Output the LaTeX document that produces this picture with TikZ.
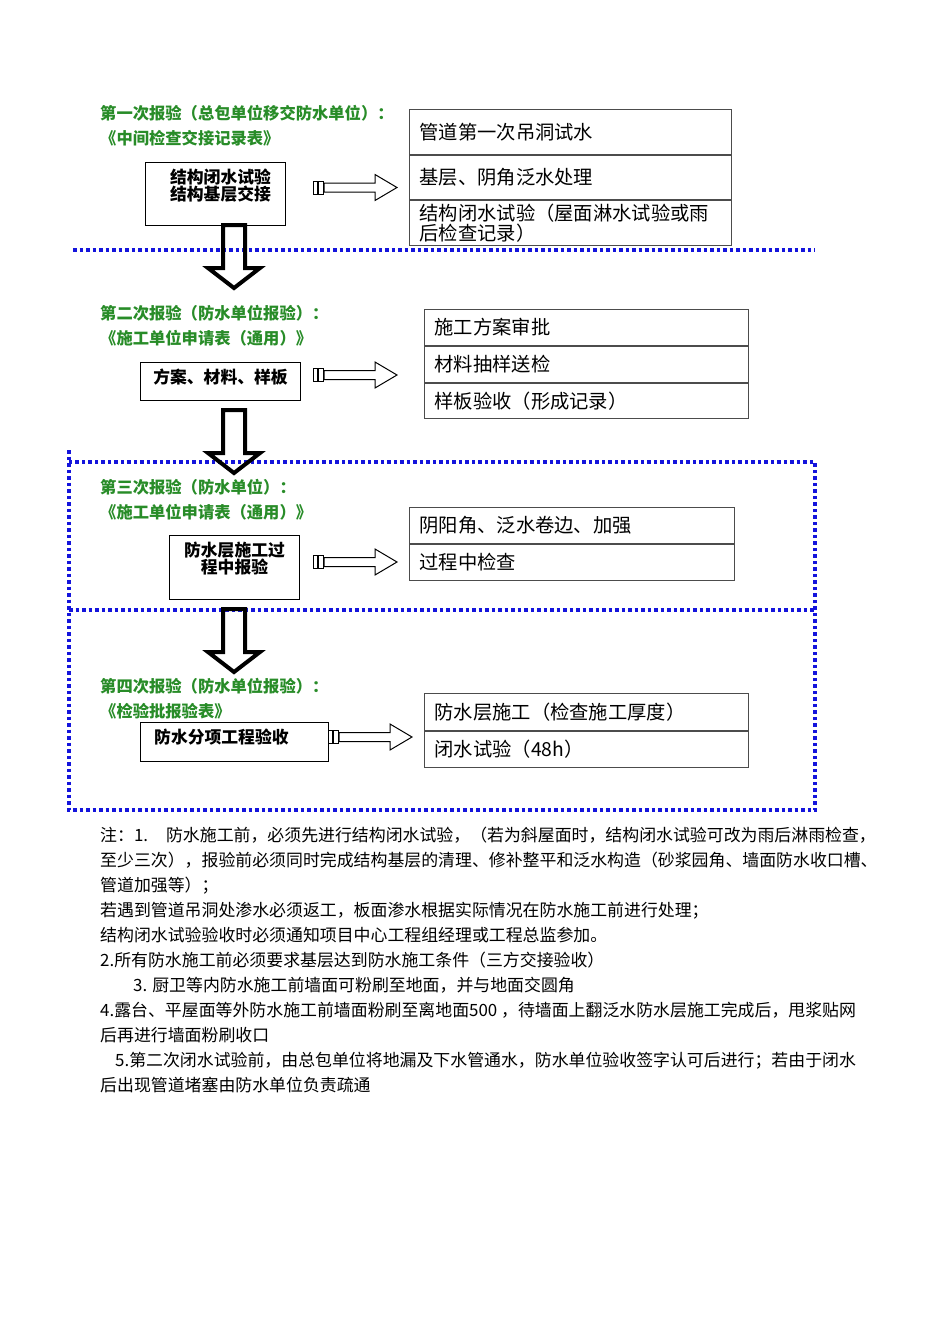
\documentclass[tikz,border=0pt]{standalone}
\usepackage{fontspec}
\setmainfont{Noto Sans CJK SC}
\usepackage{xcolor}
\usepackage{tikz}
\usetikzlibrary{positioning}
\definecolor{labelgreen}{RGB}{40,140,40}
\definecolor{dotblue}{RGB}{20,20,220}

\begin{document}
\begin{tikzpicture}[
    x=1pt, y=-1pt,
    lbl/.style={anchor=north west, inner sep=0pt, align=left, text=labelgreen, font=\fontsize{16.3}{25}\selectfont\bfseries},
    stage/.style={draw, line width=1pt, anchor=north west, inner sep=0pt},
    stagetext/.style={inner sep=0pt, align=center, font=\fontsize{16.8}{17}\selectfont\bfseries},
    cell/.style={draw=black!70, line width=1pt, anchor=north west, inner xsep=10pt, inner ysep=0pt, text width=#1, align=left, font=\fontsize{19.3}{18}\selectfont},
    notes/.style={anchor=north west, inner sep=0pt, align=left, font=\fontsize{16.9}{25}\selectfont},
    hollow/.style={draw, line width=4pt, line join=miter},
    flat/.style={draw, line width=1pt},
    dotline/.style={dotblue, line width=3.5pt, dash pattern=on 3.5pt off 3pt}
]
    \useasboundingbox (0,0) rectangle (950,1344);

    % Stage 1 - handover
    \node[lbl] (handoverlbl) at (100,105) {第一次报验（总包单位移交防水单位）：\\《中间检查交接记录表》};
    \node[stage, minimum width=140pt, minimum height=63pt] (handover) at (145,162) {};
    \node[stagetext, below=6.6pt of handover.north, xshift=5pt] {结构闭水试验\\结构基层交接};
    \node[cell=302pt, minimum height=45pt] (pipe) at (409,109) {管道第一次吊洞试水};
    \node[cell=302pt, minimum height=44pt] (base) at (pipe.south west) {基层、阴角泛水处理};
    \node[cell=302pt, minimum height=45pt] (closed) at (base.south west) {结构闭水试验（屋面淋水试验或雨\\后检查记录）};

    % Stage 2 - scheme
    \node[lbl] (schemelbl) at (100,305) {第二次报验（防水单位报验）：\\《施工单位申请表（通用）》};
    \node[stage, minimum width=160pt, minimum height=38pt] (scheme) at (140,362) {};
    \node[stagetext, below=6.6pt of scheme.north] {方案、材料、样板};
    \node[cell=304pt, minimum height=36pt] (approve) at (424,309) {施工方案审批};
    \node[cell=304pt, minimum height=36pt] (sample) at (approve.south west) {材料抽样送检};
    \node[cell=304pt, minimum height=35pt] (board) at (sample.south west) {样板验收（形成记录）};

    % Stage 3 - in process
    \node[lbl] (processlbl) at (100,479) {第三次报验（防水单位）：\\《施工单位申请表（通用）》};
    \node[stage, minimum width=130pt, minimum height=64pt] (process) at (169,535) {};
    \node[stagetext, below=7pt of process.north] {防水层施工过\\程中报验};
    \node[cell=305pt, minimum height=36pt] (corner) at (409,507) {阴阳角、泛水卷边、加强};
    \node[cell=305pt, minimum height=36pt] (check) at (corner.south west) {过程中检查};

    % Stage 4 - acceptance
    \node[lbl] (acceptlbl) at (100,678) {第四次报验（防水单位报验）：\\《检验批报验表》};
    \node[stage, minimum width=188pt, minimum height=39pt] (accept) at (140,722) {};
    \node[stagetext, anchor=north west, below right=7pt and 14pt of accept.north west] {防水分项工程验收};
    \node[cell=304pt, minimum height=37pt] (layer) at (424,693) {防水层施工（检查施工厚度）};
    \node[cell=304pt, minimum height=36pt] (test) at (layer.south west) {闭水试验（48h）};

    % Dotted frames
    \draw[dotline] (73,250) -- (815,250);
    \draw[dotline] (69,450) -- (69,810) -- (815,810) -- (815,462) -- (69,462);
    \draw[dotline] (69,610) -- (815,610);

    % Arrows
    \foreach \x/\y in {313/187.5, 313/375, 313/562, 328/737} {
        \draw[flat] (\x,{\y-6.5}) rectangle ({\x+4.5},{\y+6.5});
        \draw[flat] ({\x+5},{\y-6.5}) rectangle ({\x+10},{\y+6.5});
        \draw[flat] ({\x+11},{\y-4.5}) -- ({\x+62},{\y-4.5}) -- ({\x+62},{\y-13}) -- ({\x+84},\y)
            -- ({\x+62},{\y+13}) -- ({\x+62},{\y+4.5}) -- ({\x+11},{\y+4.5}) -- cycle;
    }
    \foreach \y in {225, 410, 609}
        \draw[hollow] (223,\y) -- (223,{\y+43}) -- (208,{\y+43}) -- (234,{\y+63})
            -- (260,{\y+43}) -- (245,{\y+43}) -- (245,\y) -- cycle;

    % Notes
    \node[notes] (remarks) at (100,826.5) {注：1.\hspace{18pt}防水施工前，必须先进行结构闭水试验，（若为斜屋面时，结构闭水试验可改为雨后淋雨检查，\\
        至少三次），报验前必须同时完成结构基层的清理、修补整平和泛水构造（砂浆园角、墙面防水收口槽、\\
        管道加强等）；\\
        若遇到管道吊洞处渗水必须返工，板面渗水根据实际情况在防水施工前进行处理；\\
        结构闭水试验验收时必须通知项目中心工程组经理或工程总监参加。\\
        2.所有防水施工前必须要求基层达到防水施工条件（三方交接验收）\\
        \hspace*{33pt}3. 厨卫等内防水施工前墙面可粉刷至地面，并与地面交圆角\\
        4.露台、平屋面等外防水施工前墙面粉刷至离地面500 ，待墙面上翻泛水防水层施工完成后，甩浆贴网\\
        后再进行墙面粉刷收口\\
        \hspace*{15pt}5.第二次闭水试验前，由总包单位将地漏及下水管通水，防水单位验收签字认可后进行；若由于闭水\\
        后出现管道堵塞由防水单位负责疏通};
\end{tikzpicture}
\end{document}
